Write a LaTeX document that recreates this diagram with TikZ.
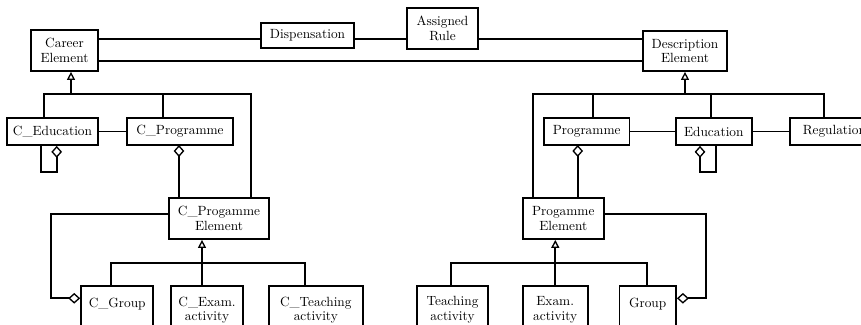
\documentclass[tikz,border=0pt]{standalone}
\usepackage{amsmath}
\usepackage{tikz}
\usetikzlibrary{arrows.meta}

\begin{document}
\begin{tikzpicture}[x=0.75pt,y=0.75pt,yscale=-1,xscale=1,
  box/.style={draw, line width=1.3pt, align=center, inner sep=1pt,
    font=\fontsize{10}{11}\selectfont},
  link/.style={line width=1.3pt},
  inh/.style={link, -{Triangle[open, length=6pt, width=6pt, line width=1pt]}},
  agg/.style={link, {Diamond[open, length=9pt, width=8pt, line width=1pt]}-}]

\useasboundingbox (0,0) rectangle (861,325);
\clip (0,0) rectangle (861,325);

% top row
\node [box, minimum width=50.25pt, minimum height=30.75pt] (career) at (64.5,50.5) {Career\\Element};
\node [box, minimum width=69.75pt, minimum height=18.75pt] (disp) at (307.5,35.5) {Dispensation};
\node [box, minimum width=53.25pt, minimum height=30.75pt] (rule) at (442.5,28.5) {Assigned\\Rule};
\node [box, minimum width=63pt, minimum height=30pt] (descr) at (685,51) {Description\\Element};

% second row
\node [box, minimum width=68.25pt, minimum height=20.25pt] (cedu) at (52.5,131.5) {C\_Education};
\node [box, minimum width=79.5pt, minimum height=20.25pt] (cprog) at (180,131.5) {C\_Programme};
\node [box, minimum width=64pt, minimum height=20.25pt] (prog) at (586.7,131.5) {Programme};
\node [box, minimum width=56.8pt, minimum height=20.25pt] (edu) at (713.8,131.5) {Education};
\node [box, minimum width=66.75pt, minimum height=20.25pt, anchor=west] (reg) at (789,131.5) {Regulation};

% programme elements
\node [box, minimum width=75pt, minimum height=30.75pt] (cpel) at (219,218.5) {C\_Progamme\\Element};
\node [box, minimum width=61pt, minimum height=30.75pt] (pel) at (563.3,218.5) {Progamme\\Element};

% bottom row
\node [box, minimum width=54.2pt, minimum height=36pt] (cgroup) at (117.2,310) {C\_Group\\\mbox{}};
\node [box, minimum width=54.5pt, minimum height=36pt] (cexam) at (207,310) {C\_Exam.\\activity};
\node [box, minimum width=70.3pt, minimum height=36pt] (cteach) at (315.8,310) {C\_Teaching\\activity};
\node [box, minimum width=52.8pt, minimum height=36pt] (teach) at (452.5,310) {Teaching\\activity};
\node [box, minimum width=48.75pt, minimum height=36pt] (exam) at (555.2,310) {Exam.\\activity};
\node [box, minimum width=42.5pt, minimum height=36pt] (group) at (647.7,310) {Group\\\mbox{}};

% helper points
\coordinate (toprow) at (0,38.7);
\coordinate (botrow) at (0,60.7);
\coordinate (cbus) at (71,94.3);
\coordinate (cbusL) at (43.7,94.3);
\coordinate (cbusM) at (163.3,94.3);
\coordinate (cbusR) at (250.7,94.3);
\coordinate (dbusL) at (533.3,94.3);
\coordinate (dbusM) at (593.3,94.3);
\coordinate (dbusN) at (711,94.3);
\coordinate (dbusR) at (824,94.3);
\coordinate (cloopR) at (56.7,172.3);
\coordinate (cloopL) at (41,172.3);
\coordinate (loopL) at (700,172.3);
\coordinate (loopR) at (715.7,172.3);
\coordinate (cdia) at (179,145);
\coordinate (dia) at (577.7,145);
\coordinate (cgtop) at (51,214.3);
\coordinate (cgbot) at (51,298.3);
\coordinate (gtop) at (706,214.3);
\coordinate (gbot) at (706,298.3);
\coordinate (pbus) at (202,262.7);
\coordinate (pbusL) at (111,262.7);
\coordinate (pbusR) at (305.3,262.7);
\coordinate (qbus) at (555.3,262.7);
\coordinate (qbusL) at (451,262.7);
\coordinate (qbusR) at (646.7,262.7);

% associations
\draw [link] (career.east |- toprow) -- (disp.west |- toprow);
\draw [link] (disp.east |- toprow) -- (rule.west |- toprow);
\draw [link] (rule.east |- toprow) -- (descr.west |- toprow);
\draw [link] (career.east |- botrow) -- (descr.west |- botrow);
\draw [link] (cedu) -- (cprog);
\draw [link] (prog) -- (edu);
\draw [link] (edu) -- (reg);

% generalisations
\draw [inh] (cbus) -- (cbus |- career.south);
\draw [link] (cbusL |- cedu.north) -- (cbusL) -- (cbusR) -- (cbusR |- cpel.north);
\draw [link] (cbusM) -- (cbusM |- cprog.north);
\draw [inh] (descr.south |- dbusL) -- (descr.south);
\draw [link] (dbusL |- pel.north) -- (dbusL) -- (dbusR) -- (dbusR |- reg.north);
\draw [link] (dbusM) -- (dbusM |- prog.north);
\draw [link] (dbusN) -- (dbusN |- edu.north);
\draw [inh] (pbus |- cexam.north) -- (pbus |- cpel.south);
\draw [link] (pbusL |- cgroup.north) -- (pbusL) -- (pbusR) -- (pbusR |- cteach.north);
\draw [inh] (qbus |- exam.north) -- (qbus |- pel.south);
\draw [link] (qbusL |- teach.north) -- (qbusL) -- (qbusR) -- (qbusR |- group.north);

% aggregations
\draw [agg] (cloopR |- cedu.south) -- (cloopR) -- (cloopL) -- (cloopL |- cedu.south);
\draw [agg] (cdia) -- (cdia |- cpel.north);
\draw [agg] (loopL |- edu.south) -- (loopL) -- (loopR) -- (loopR |- edu.south);
\draw [agg] (dia) -- (dia |- pel.north);
\draw [agg] (cgroup.west |- cgbot) -- (cgbot) -- (cgtop) -- (cgtop -| cpel.west);
\draw [agg] (group.east |- gbot) -- (gbot) -- (gtop) -- (gtop -| pel.east);

\end{tikzpicture}
\end{document}
